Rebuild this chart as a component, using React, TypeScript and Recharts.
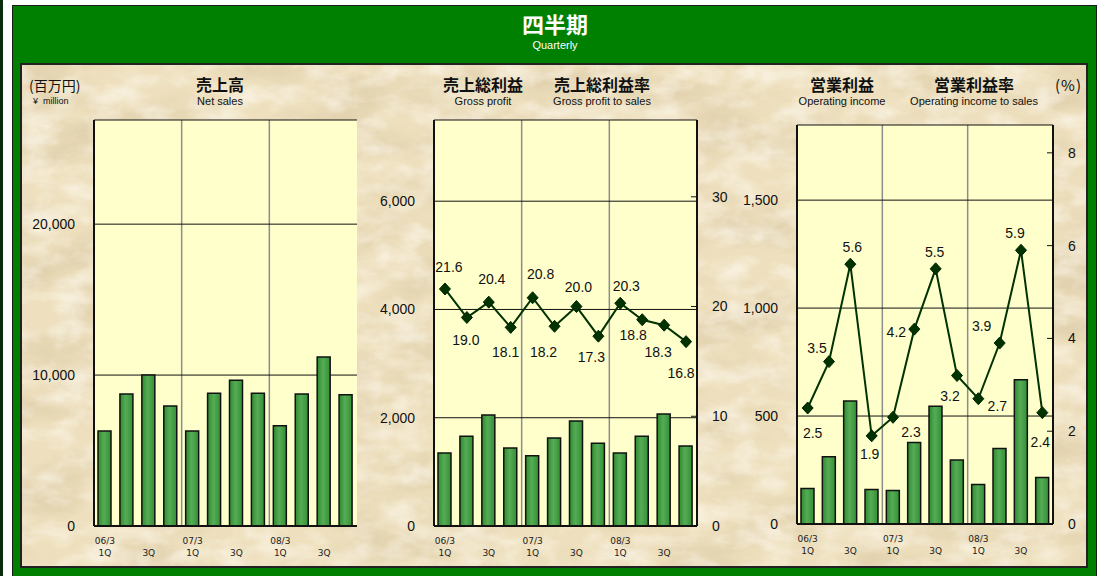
import React from "react";
import { ComposedChart, Bar, Line, XAxis, YAxis, CartesianGrid } from "recharts";

const quarters = [
  "06/3 1Q", "06/3 2Q", "06/3 3Q", "06/3 4Q",
  "07/3 1Q", "07/3 2Q", "07/3 3Q", "07/3 4Q",
  "08/3 1Q", "08/3 2Q", "08/3 3Q", "08/3 4Q",
];
const yearLabels = ["06/3", "", "", "", "07/3", "", "", "", "08/3", "", "", ""];
const quarterLabels = ["1Q", "", "3Q", "", "1Q", "", "3Q", "", "1Q", "", "3Q", ""];

// 百万円
const netSales = [6300, 8750, 10000, 7950, 6300, 8800, 9650, 8800, 6650, 8750, 11200, 8700];
const grossProfit = [1350, 1660, 2050, 1440, 1300, 1625, 1940, 1530, 1350, 1660, 2070, 1480];
const operatingIncome = [165, 312, 570, 160, 155, 378, 545, 296, 183, 350, 668, 215];
// %
const grossMargin = [21.6, 19.0, 20.4, 18.1, 20.8, 18.2, 20.0, 17.3, 20.3, 18.8, 18.3, 16.8];
const operatingMargin = [2.5, 3.5, 5.6, 1.9, 2.3, 4.2, 5.5, 3.2, 2.7, 3.9, 5.9, 2.4];

const salesTicks = [0, 10000, 20000];
const gpTicks = [0, 2000, 4000, 6000];
const gmTicks = [0, 10, 20, 30];
const oiTicks = [0, 500, 1000, 1500];
const omTicks = [0, 2, 4, 6, 8];

// label nudges (dx, dy) so the value labels sit like the original
const gmLabelNudge = [[4, -22], [-1, 23], [3, -23], [-5, 25], [8, -24], [-11, 26], [2, -19], [-7, 21], [6, -17], [-9, 15], [-6, 27], [-5, 31]];
const omLabelNudge = [[5, 25], [-12, -14], [2, -17], [-2, 18], [18, 15], [-18, 3], [-1, -17], [-7, 21], [19, 7], [-18, -17], [-6, -17], [-2, 29]];

const salesData = quarters.map((q, i) => ({ q, sales: netSales[i] }));
const gpData = quarters.map((q, i) => ({ q, gp: grossProfit[i], gm: grossMargin[i] }));
const oiData = quarters.map((q, i) => ({ q, oi: operatingIncome[i], om: operatingMargin[i] }));

const NUM = "'Liberation Sans', Arial, sans-serif";
const JP = "'Noto Sans CJK JP', sans-serif";
const INK = "#111";
const frameLine = { stroke: INK, strokeWidth: 2 };
const fmt = (v: number) => v.toLocaleString("en-US");

const yearDividers = ({ offset }: any) => [offset.left + offset.width / 3, offset.left + (offset.width * 2) / 3];

const QuarterTick = (props: any) => {
  const { x, y, payload } = props;
  const i = quarters.indexOf(payload.value);
  return (
    <g fontFamily="'DejaVu Sans', sans-serif" fontSize={9} fill="#222">
      <text x={x} y={y + 18} textAnchor="middle">{yearLabels[i]}</text>
      <text x={x} y={y + 30} textAnchor="middle">{quarterLabels[i]}</text>
    </g>
  );
};

const RightTick = (props: any) => {
  const { x, y, payload } = props;
  return (
    <g>
      {payload.value !== 0 && <line x1={x - 6} x2={x} y1={y} y2={y} stroke={INK} strokeWidth={1} />}
      <text x={x + 15} y={y} dy="0.35em" fontSize={14} fontFamily={NUM} fill={INK}>{payload.value}</text>
    </g>
  );
};

const makeDot = (nudge: number[][]) => (props: any) => {
  const { cx, cy, index, value } = props;
  if (cx == null || cy == null) return <g key={index} />;
  const [dx, dy] = nudge[index] || [0, -18];
  return (
    <g key={index}>
      <path d={`M${cx},${cy - 6} L${cx + 5.5},${cy} L${cx},${cy + 6} L${cx - 5.5},${cy} Z`} fill="#003300" stroke="#002200" strokeWidth={1} />
      <text x={cx + dx} y={cy + dy} dy="0.35em" textAnchor="middle" fontSize={14} fontFamily={NUM} fill={INK}>
        {Number(value).toFixed(1)}
      </text>
    </g>
  );
};

const BarGradient = ({ id }: { id: string }) => (
  <defs>
    <linearGradient id={id} x1="0" x2="1" y1="0" y2="0">
      <stop offset="0%" stopColor="#2f8a2f" />
      <stop offset="45%" stopColor="#55ac55" />
      <stop offset="100%" stopColor="#348f34" />
    </linearGradient>
  </defs>
);

const leftTickStyle = { fill: INK, fontSize: 14, fontFamily: NUM };

const abs = (left: number, top: number, extra: React.CSSProperties = {}): React.CSSProperties => ({
  position: "absolute", left, top, whiteSpace: "nowrap", ...extra,
});

const Head = ({ x, y, jp, en, jpSize = 16 }: { x: number; y: number; jp: string; en: string; jpSize?: number }) => (
  <>
    <div style={abs(x, y, { transform: "translateX(-50%)", fontFamily: JP, fontWeight: 700, fontSize: jpSize, color: INK, lineHeight: "18px" })}>{jp}</div>
    <div style={abs(x, y + 20, { transform: "translateX(-50%)", fontFamily: NUM, fontSize: 11, color: INK, lineHeight: "13px" })}>{en}</div>
  </>
);

export default function App() {
  return (
    <div style={{ position: "fixed", left: 0, top: 0, width: 1099, height: 576, background: "#fff", overflow: "hidden" }}>
      <div style={abs(0, 0, { width: 3, height: 576, background: "#0c2a0c" })} />
      <div style={abs(12, 5, { width: 1085, height: 590, background: "#008000", border: "1px solid #1b1b1b", boxSizing: "border-box" })} />
      <div style={abs(555, 8, { transform: "translateX(-50%)", color: "#fff", fontFamily: JP, fontWeight: 700, fontSize: 22, lineHeight: "30px" })}>四半期</div>
      <div style={abs(555, 38, { transform: "translateX(-50%)", color: "#fff", fontFamily: NUM, fontSize: 11, lineHeight: "14px" })}>Quarterly</div>

      <div style={abs(20, 63, { width: 1068, height: 505, border: "2px solid #222", boxSizing: "border-box", overflow: "hidden" })}>
        <svg width="100%" height="100%" style={{ position: "absolute", left: 0, top: 0 }}>
          <defs>
            <filter id="parch" x="0" y="0" width="100%" height="100%">
              <feTurbulence type="fractalNoise" baseFrequency="0.011 0.022" numOctaves={5} seed={11} />
              <feColorMatrix type="matrix" values="0 0 0 0 0.66  0 0 0 0 0.54  0 0 0 0 0.34  2.6 0 0 0 -1.05" />
            </filter>
            <filter id="parch2" x="0" y="0" width="100%" height="100%">
              <feTurbulence type="fractalNoise" baseFrequency="0.03 0.05" numOctaves={4} seed={3} />
              <feColorMatrix type="matrix" values="0 0 0 0 1  0 0 0 0 0.97  0 0 0 0 0.9  0 2.4 0 0 -0.95" />
            </filter>
          </defs>
          <rect width="100%" height="100%" fill="#EEE0BE" />
          <rect width="100%" height="100%" filter="url(#parch)" opacity={0.45} />
          <rect width="100%" height="100%" filter="url(#parch2)" opacity={0.55} />
        </svg>
      </div>

      <div style={abs(29, 77, { fontFamily: JP, fontSize: 14, color: INK, lineHeight: "16px" })}>(百万円)</div>
      <div style={abs(33, 96, { fontFamily: NUM, fontSize: 9, color: INK, lineHeight: "10px" })}>¥&nbsp;&nbsp;million</div>
      <Head x={220} y={75} jp="売上高" en="Net sales" />
      <Head x={483} y={75} jp="売上総利益" en="Gross profit" />
      <Head x={602} y={75} jp="売上総利益率" en="Gross profit to sales" />
      <Head x={842} y={75} jp="営業利益" en="Operating income" />
      <Head x={974} y={75} jp="営業利益率" en="Operating income to sales" />
      <div style={abs(1055, 76, { fontFamily: JP, fontSize: 15, color: INK, lineHeight: "17px", letterSpacing: 1 })}>(%)</div>

      {/* 売上高 */}
      <div style={abs(20, 110)}>
        <ComposedChart width={360} height={456} data={salesData} margin={{ top: 10, right: 23, bottom: 0, left: 0 }}>
          <BarGradient id="barA" />
          <CartesianGrid fill="#FFFFCC" horizontal={false} vertical={false} />
          <CartesianGrid horizontal={false} stroke="#8c8c8c" strokeWidth={1.5} verticalCoordinatesGenerator={yearDividers} />
          <CartesianGrid vertical={false} stroke={INK} strokeWidth={1} />
          <XAxis dataKey="q" interval={0} height={40} tickLine={false} tickSize={0} tickMargin={0} axisLine={frameLine} tick={<QuarterTick />} />
          <XAxis xAxisId="top" dataKey="q" orientation="top" height={0} tick={false} tickLine={false} axisLine={frameLine} />
          <YAxis domain={[0, 26900]} ticks={salesTicks} width={74} tickLine={false} tickSize={0} tickMargin={19} axisLine={frameLine} tickFormatter={fmt} tick={leftTickStyle} />
          <YAxis yAxisId="frame" orientation="right" width={0} tick={false} tickLine={false} axisLine={frameLine} />
          <Bar dataKey="sales" barSize={13} fill="url(#barA)" stroke={INK} strokeWidth={1.5} isAnimationActive={false} />
        </ComposedChart>
      </div>

      {/* 売上総利益 */}
      <div style={abs(380, 110)}>
        <ComposedChart width={360} height={456} data={gpData} margin={{ top: 10, right: 3, bottom: 0, left: 0 }}>
          <BarGradient id="barB" />
          <CartesianGrid yAxisId="left" fill="#FFFFCC" horizontal={false} vertical={false} />
          <CartesianGrid yAxisId="left" horizontal={false} stroke="#8c8c8c" strokeWidth={1.5} verticalCoordinatesGenerator={yearDividers} />
          <CartesianGrid yAxisId="left" vertical={false} stroke={INK} strokeWidth={1} />
          <XAxis dataKey="q" interval={0} height={40} tickLine={false} tickSize={0} tickMargin={0} axisLine={frameLine} tick={<QuarterTick />} />
          <XAxis xAxisId="top" dataKey="q" orientation="top" height={0} tick={false} tickLine={false} axisLine={frameLine} />
          <YAxis yAxisId="left" domain={[0, 7500]} ticks={gpTicks} width={54} tickLine={false} tickSize={0} tickMargin={19} axisLine={frameLine} tickFormatter={fmt} tick={leftTickStyle} />
          <YAxis yAxisId="right" orientation="right" domain={[0, 37]} ticks={gmTicks} width={40} tickLine={false} tickSize={0} tickMargin={0} axisLine={frameLine} tick={<RightTick />} />
          <Bar yAxisId="left" dataKey="gp" barSize={13} fill="url(#barB)" stroke={INK} strokeWidth={1.5} isAnimationActive={false} />
          <Line yAxisId="right" dataKey="gm" stroke="#003300" strokeWidth={2} dot={makeDot(gmLabelNudge)} activeDot={false} isAnimationActive={false} />
        </ComposedChart>
      </div>

      {/* 営業利益 */}
      <div style={abs(740, 110)}>
        <ComposedChart width={349} height={456} data={oiData} margin={{ top: 15, right: 0, bottom: 0, left: 0 }}>
          <BarGradient id="barC" />
          <CartesianGrid yAxisId="left" fill="#FFFFCC" horizontal={false} vertical={false} />
          <CartesianGrid yAxisId="left" horizontal={false} stroke="#8c8c8c" strokeWidth={1.5} verticalCoordinatesGenerator={yearDividers} />
          <CartesianGrid yAxisId="left" vertical={false} stroke={INK} strokeWidth={1} />
          <XAxis dataKey="q" interval={0} height={42} tickLine={false} tickSize={0} tickMargin={0} axisLine={frameLine} tick={<QuarterTick />} />
          <XAxis xAxisId="top" dataKey="q" orientation="top" height={0} tick={false} tickLine={false} axisLine={frameLine} />
          <YAxis yAxisId="left" domain={[0, 1848]} ticks={oiTicks} width={57} tickLine={false} tickSize={0} tickMargin={19} axisLine={frameLine} tickFormatter={fmt} tick={leftTickStyle} />
          <YAxis yAxisId="right" orientation="right" domain={[0, 8.6]} ticks={omTicks} width={36} tickLine={false} tickSize={0} tickMargin={0} axisLine={frameLine} tick={<RightTick />} />
          <Bar yAxisId="left" dataKey="oi" barSize={13} fill="url(#barC)" stroke={INK} strokeWidth={1.5} isAnimationActive={false} />
          <Line yAxisId="right" dataKey="om" stroke="#003300" strokeWidth={2} dot={makeDot(omLabelNudge)} activeDot={false} isAnimationActive={false} />
        </ComposedChart>
      </div>
    </div>
  );
}
